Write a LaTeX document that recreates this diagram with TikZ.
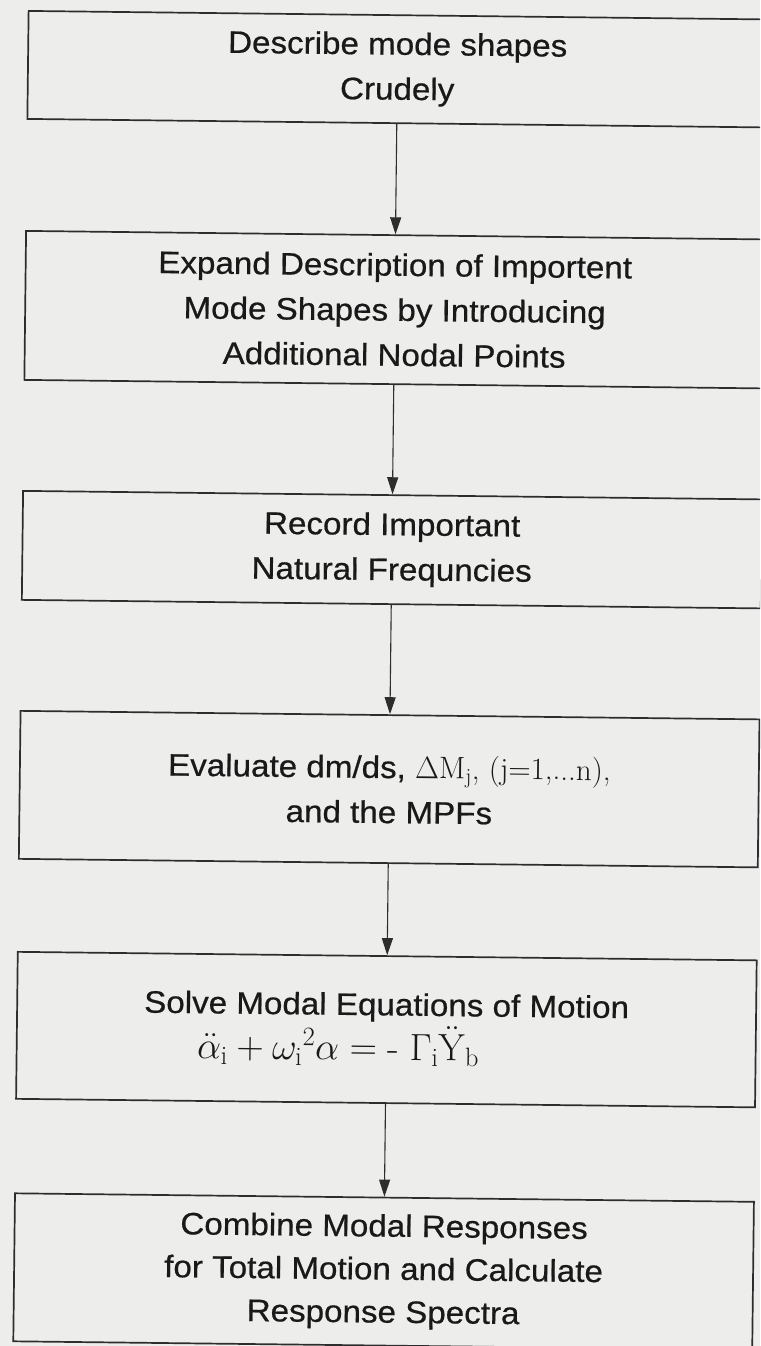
\RequirePackage{fix-cm}
\documentclass[tikz,border=0pt]{standalone}
\usepackage{fontspec}
\newfontfamily\boxfont{Liberation Sans}[FakeStretch=1.07,FakeBold=0.6]
\usetikzlibrary{arrows.meta}
\definecolor{paper}{RGB}{237,237,235}
\definecolor{ink}{RGB}{45,45,45}
\begin{document}
\begin{tikzpicture}[x=1pt,y=-1pt,
  stepbox/.style={draw=ink, line width=1.7pt, minimum width=739pt, inner sep=0pt,
    align=center, text=black!90, font=\boxfont\fontsize{31}{45}\selectfont, transform shape},
  arr/.style={draw=ink, line width=1.1pt, -{Triangle[length=17pt,width=11pt]}}]
\fill[paper] (0,0) rectangle (760,1346);
\useasboundingbox (0,0) rectangle (760,1346);
\clip (0,0) rectangle (760,1346);
\begin{scope}[rotate around={-0.66:(380,673)}]
\node[stepbox, minimum height=108pt] (b1) at (390.5,69) {Describe mode shapes\\Crudely};
\node[stepbox, minimum height=149pt] (b2) at (390.5,309.5) {Expand Description of Importent\\Mode Shapes by Introducing\\Additional Nodal Points};
\node[stepbox, minimum height=109pt] (b3) at (390.5,549.5) {Record Important\\Natural Frequncies};
\node[stepbox, minimum height=148pt] (b4) at (390.5,789) {Evaluate dm/ds, $\Delta\mathrm{M}_{\mathrm{j}}$\textrm{, (j=1,...n),}\\and the MPFs};
\node[stepbox, minimum height=147pt] (b5) at (390.5,1029.5) {Solve Modal Equations of Motion\\{\fontsize{38}{45}\selectfont$\ddot{\alpha}_{\mathrm{i}} + \omega_{\mathrm{i}}{}^{2}\alpha = \textrm{-}\;\Gamma_{\mathrm{i}}\ddot{\mathrm{Y}}_{\mathrm{b}}$}\hspace*{96pt}};
\node[stepbox, minimum height=148pt, font=\boxfont\fontsize{31}{43}\selectfont] (b6) at (390.5,1271.5) {Combine Modal Responses\\for Total Motion and Calculate\\Response Spectra};
\draw[arr] (b1) -- (b2);
\draw[arr] (b2) -- (b3);
\draw[arr] (b3) -- (b4);
\draw[arr] (b4) -- (b5);
\draw[arr] (b5) -- (b6);
\end{scope}
\end{tikzpicture}
\end{document}
